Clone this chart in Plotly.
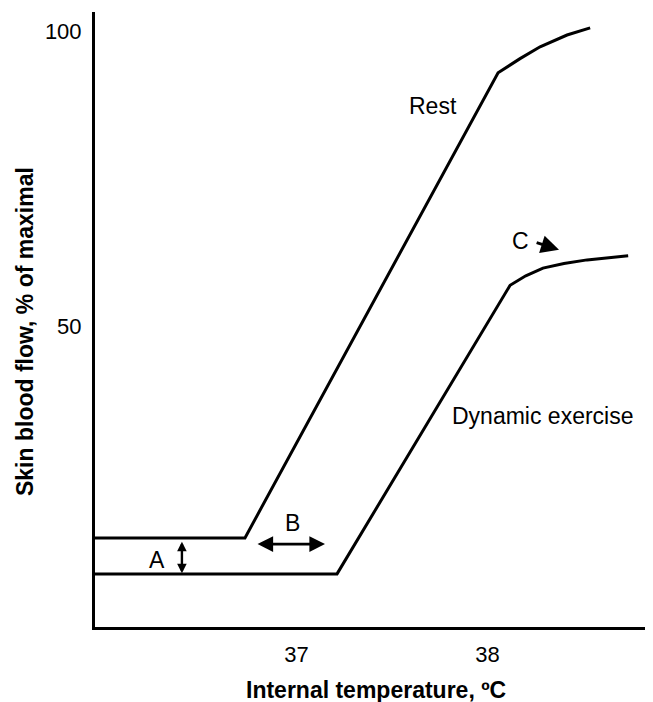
import plotly.graph_objects as go

# Data
rest_temp = [35.945, 36.73, 38.055, 38.17, 38.275, 38.416, 38.537]
rest_flow = [14.1, 14.1, 92.9, 95.3, 97.3, 99.3, 100.5]
ex_temp = [35.945, 37.212, 38.118, 38.20, 38.29, 38.40, 38.521, 38.736]
ex_flow = [8.0, 8.0, 56.9, 58.5, 59.8, 60.6, 61.2, 61.9]

x_ticks = [37, 38]
y_ticks = [50, 100]

FONT = "Arial, Liberation Sans, sans-serif"

fig = go.Figure()
for t, f in [(rest_temp, rest_flow), (ex_temp, ex_flow)]:
    fig.add_trace(go.Scatter(x=t, y=f, mode="lines",
                             line=dict(color="black", width=3),
                             hoverinfo="skip", showlegend=False))

labels = [
    ("Rest", 37.715, 87.3),
    ("Dynamic exercise", 38.29, 34.75),
    ("C", 38.17, 64.4),
    ("B", 36.979, 16.7),
    ("A", 36.27, 10.3),
]
for txt, x, y in labels:
    fig.add_annotation(x=x, y=y, text=txt, showarrow=False,
                       font=dict(family=FONT, size=23, color="black"),
                       xanchor="center", yanchor="middle")

# arrows: (head x, head y, tail x, tail y, side, size, width)
arrows = [
    (38.374, 62.9, 38.249, 64.2, "end", 1.2, 3),
    (37.149, 13.05, 36.788, 13.05, "end+start", 1.2, 2.6),
    (36.40, 8.1, 36.40, 13.7, "end+start", 0.8, 2.4),
]
for hx, hy, tx, ty, side, sz, w in arrows:
    fig.add_annotation(x=hx, y=hy, ax=tx, ay=ty, xref="x", yref="y",
                       axref="x", ayref="y", text="", showarrow=True,
                       arrowhead=2, arrowsize=sz, arrowwidth=w,
                       arrowcolor="black", arrowside=side,
                       startarrowhead=2, startarrowsize=sz)

fig.add_annotation(xref="paper", yref="paper", x=-0.1254, y=0.4797,
                   text="<b>Skin blood flow, % of maximal</b>", textangle=-90,
                   showarrow=False, xanchor="center", yanchor="middle",
                   font=dict(family=FONT, size=23, color="black"))
fig.add_annotation(xref="paper", yref="paper", x=0.5036, y=-0.1024,
                   text="<b>Internal temperature, ºC</b>",
                   showarrow=False, xanchor="center", yanchor="middle",
                   font=dict(family=FONT, size=23, color="black"))

fig.update_layout(
    width=645, height=694,
    margin=dict(l=87, r=0, t=4, b=75),
    paper_bgcolor="white", plot_bgcolor="white",
    font=dict(family=FONT, color="black"),
    showlegend=False,
)
fig.update_xaxes(range=[35.945, 38.866], tickvals=x_ticks,
                 ticktext=[str(v) for v in x_ticks],
                 showgrid=False, zeroline=False, showline=True,
                 linecolor="black", linewidth=3, ticks="",
                 ticklabelstandoff=6,
                 tickfont=dict(family=FONT, size=22, color="black"))
fig.update_yaxes(range=[-1, 103.2], tickvals=y_ticks,
                 ticktext=[str(v) for v in y_ticks],
                 showgrid=False, zeroline=False, showline=True,
                 linecolor="black", linewidth=3, ticks="",
                 ticklabelstandoff=6,
                 tickfont=dict(family=FONT, size=22, color="black"))

fig.write_html("out.html")
